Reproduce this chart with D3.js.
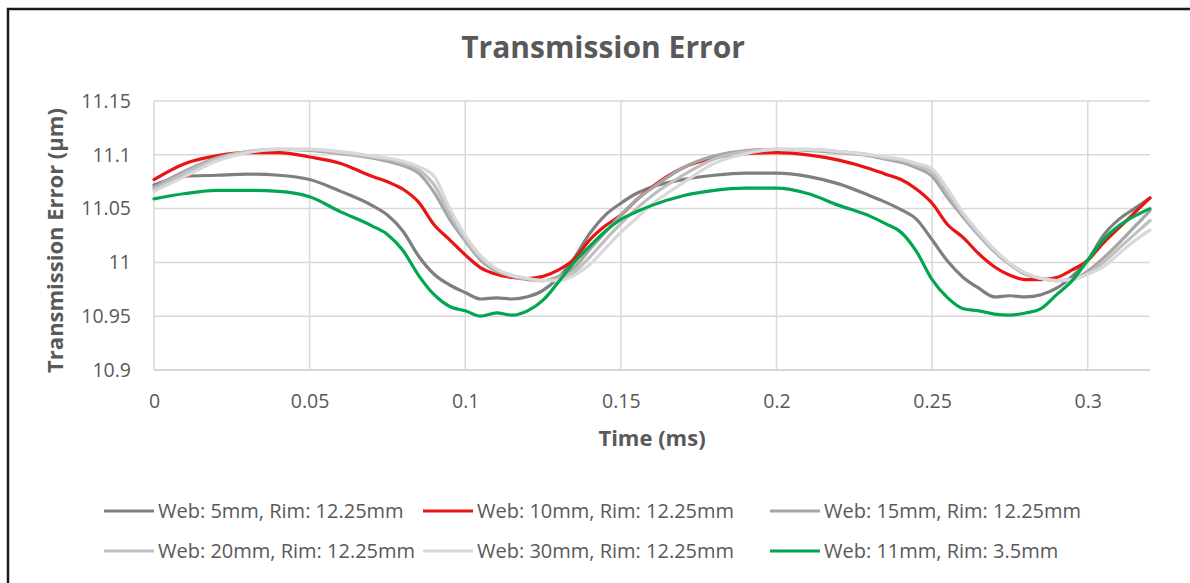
<!DOCTYPE html>
<html><head><meta charset="utf-8">
<script src="https://cdn.jsdelivr.net/npm/d3@7"></script>
<style>
html,body{margin:0;padding:0;background:#fff;}
svg{display:block;font-family:"Open Sans","Lato",sans-serif;}
</style></head>
<body>
<svg id="chart" width="1190" height="583"></svg>
<script>
const times = [0,0.01,0.02,0.03,0.04,0.05,0.06,0.07,0.075,0.08,0.085,0.09,0.095,0.1,0.105,0.11,0.115,0.12,0.125,0.13,0.135,0.14,0.145,0.15,0.155,0.16,0.17,0.18,0.19,0.2,0.21,0.22,0.23,0.235,0.24,0.245,0.25,0.255,0.26,0.265,0.27,0.275,0.28,0.285,0.29,0.295,0.3,0.305,0.31,0.315,0.32];

const web5 = [11.072,11.080,11.081,11.082,11.081,11.077,11.066,11.053,11.044,11.029,11.006,10.989,10.979,10.972,10.966,10.967,10.966,10.968,10.974,10.986,11.004,11.027,11.044,11.055,11.064,11.070,11.077,11.081,11.083,11.083,11.080,11.073,11.062,11.056,11.049,11.040,11.021,11.001,10.986,10.976,10.968,10.969,10.968,10.970,10.976,10.987,11.002,11.025,11.040,11.050,11.060];
const web10 = [11.077,11.092,11.099,11.102,11.102,11.098,11.092,11.080,11.075,11.068,11.056,11.035,11.021,11.007,10.995,10.989,10.986,10.985,10.987,10.993,11.003,11.021,11.034,11.044,11.058,11.070,11.088,11.097,11.101,11.102,11.100,11.095,11.087,11.082,11.077,11.068,11.055,11.035,11.023,11.008,10.996,10.988,10.984,10.984,10.986,10.993,11.002,11.018,11.032,11.046,11.060];
const web15 = [11.070,11.085,11.097,11.103,11.105,11.104,11.101,11.097,11.094,11.090,11.083,11.065,11.040,11.020,11.002,10.992,10.987,10.984,10.983,10.987,10.995,11.012,11.028,11.044,11.058,11.069,11.088,11.099,11.104,11.105,11.104,11.102,11.099,11.096,11.093,11.088,11.080,11.060,11.042,11.025,11.010,10.998,10.989,10.985,10.983,10.984,10.992,11.004,11.018,11.033,11.048];
const web20 = [11.068,11.083,11.096,11.103,11.105,11.105,11.102,11.098,11.096,11.092,11.086,11.072,11.045,11.022,11.004,10.993,10.988,10.985,10.983,10.985,10.991,11.005,11.021,11.036,11.050,11.062,11.081,11.096,11.103,11.105,11.105,11.103,11.100,11.097,11.095,11.090,11.084,11.064,11.044,11.026,11.011,10.999,10.990,10.985,10.983,10.984,10.990,11.000,11.013,11.026,11.039];
const web30 = [11.066,11.080,11.094,11.102,11.105,11.105,11.103,11.099,11.097,11.094,11.089,11.080,11.050,11.025,11.006,10.994,10.988,10.985,10.983,10.983,10.988,10.998,11.013,11.028,11.041,11.054,11.074,11.092,11.101,11.105,11.105,11.103,11.100,11.098,11.096,11.092,11.087,11.068,11.046,11.028,11.012,10.999,10.990,10.985,10.983,10.984,10.989,10.996,11.008,11.020,11.030];
const web11rim35 = [11.059,11.064,11.067,11.067,11.066,11.061,11.047,11.034,11.026,11.011,10.988,10.970,10.959,10.955,10.950,10.953,10.951,10.955,10.965,10.982,11.000,11.015,11.029,11.040,11.047,11.053,11.062,11.067,11.069,11.069,11.064,11.053,11.043,11.036,11.028,11.010,10.984,10.967,10.957,10.955,10.952,10.951,10.953,10.957,10.970,10.983,11.002,11.021,11.034,11.043,11.050];

const seriesNames = ["Web: 5mm, Rim: 12.25mm","Web: 10mm, Rim: 12.25mm","Web: 15mm, Rim: 12.25mm","Web: 20mm, Rim: 12.25mm","Web: 30mm, Rim: 12.25mm","Web: 11mm, Rim: 3.5mm"];
const seriesValues = [web5, web10, web15, web20, web30, web11rim35];
const seriesColors = ["#7f7f7f","#ea1414","#a6a6a6","#bfbfbf","#d9d9d9","#00a650"];

const yTicks = [10.9,10.95,11,11.05,11.1,11.15];
const xTicks = [0,0.05,0.1,0.15,0.2,0.25,0.3];
const yTickLabels = ["10.9","10.95","11","11.05","11.1","11.15"];
const xTickLabels = ["0","0.05","0.1","0.15","0.2","0.25","0.3"];

const svg = d3.select("#chart");
const textColor = "#595959";

// outer frame
svg.append("rect").attr("x",8).attr("y",9).attr("width",1300).attr("height",700)
  .attr("fill","none").attr("stroke","#1a1a1a").attr("stroke-width",2.5);

const L=154, R=1150, T=101, B=370;
const x = d3.scaleLinear().domain([0,0.32]).range([L,R]);
const y = d3.scaleLinear().domain([10.9,11.15]).range([B,T]);

// gridlines
svg.append("g").selectAll("line.h").data(yTicks).join("line")
  .attr("x1",L).attr("x2",R).attr("y1",d=>y(d)).attr("y2",d=>y(d))
  .attr("stroke",(d,i)=>i===0?"#c8c8c8":"#d9d9d9").attr("stroke-width",1.5);
svg.append("g").selectAll("line.v").data(xTicks).join("line")
  .attr("x1",d=>x(d)).attr("x2",d=>x(d)).attr("y1",T).attr("y2",B)
  .attr("stroke","#d9d9d9").attr("stroke-width",1.5);

// axes (labels only)
const yAxis = d3.axisLeft(y).tickValues(yTicks).tickSize(0).tickPadding(23)
  .tickFormat((d,i)=>yTickLabels[i]);
const gy = svg.append("g").attr("transform",`translate(${L},0)`).call(yAxis);
gy.select(".domain").remove();
gy.selectAll("text").attr("fill",textColor).style("font-size","19.5px").style("font-family","'Open Sans',sans-serif");

const xAxis = d3.axisBottom(x).tickValues(xTicks).tickSize(0).tickPadding(24)
  .tickFormat((d,i)=>xTickLabels[i]);
const gx = svg.append("g").attr("transform",`translate(0,${B})`).call(xAxis);
gx.select(".domain").remove();
gx.selectAll("text").attr("fill",textColor).style("font-size","19.5px").style("font-family","'Open Sans',sans-serif");

// lines
const line = d3.line().x((d,i)=>x(times[i])).y(d=>y(d)).curve(d3.curveMonotoneX);
svg.append("g").selectAll("path").data(seriesValues).join("path")
  .attr("d",d=>line(d)).attr("fill","none")
  .attr("stroke",(d,i)=>seriesColors[i]).attr("stroke-width",3.2)
  .attr("stroke-linejoin","round").attr("stroke-linecap","round");

// titles
svg.append("text").attr("x",(L+R)/2 - 49).attr("y",58).attr("text-anchor","middle")
  .attr("fill",textColor).style("font-size","30px").style("font-weight","bold")
  .text("Transmission Error");
svg.append("text").attr("x",(L+R)/2).attr("y",446).attr("text-anchor","middle")
  .attr("fill",textColor).style("font-size","22px").style("font-weight","bold")
  .text("Time (ms)");
svg.append("text").attr("transform",`translate(63,${(T+B)/2+5}) rotate(-90)`)
  .attr("text-anchor","middle").attr("fill",textColor)
  .style("font-size","22px").style("font-weight","bold")
  .text("Transmission Error (µm)");

// legend
const legX = [104,423,770];
const legY = [511,551];
const lg = svg.append("g");
seriesNames.forEach((name,i)=>{
  const cx = legX[i%3], cy = legY[Math.floor(i/3)];
  lg.append("line").attr("x1",cx).attr("x2",cx+50).attr("y1",cy).attr("y2",cy)
    .attr("stroke",seriesColors[i]).attr("stroke-width",3.2);
  lg.append("text").attr("x",cx+54).attr("y",cy+7).attr("fill",textColor)
    .style("font-size","20px").text(name);
});
</script>
</body></html>
